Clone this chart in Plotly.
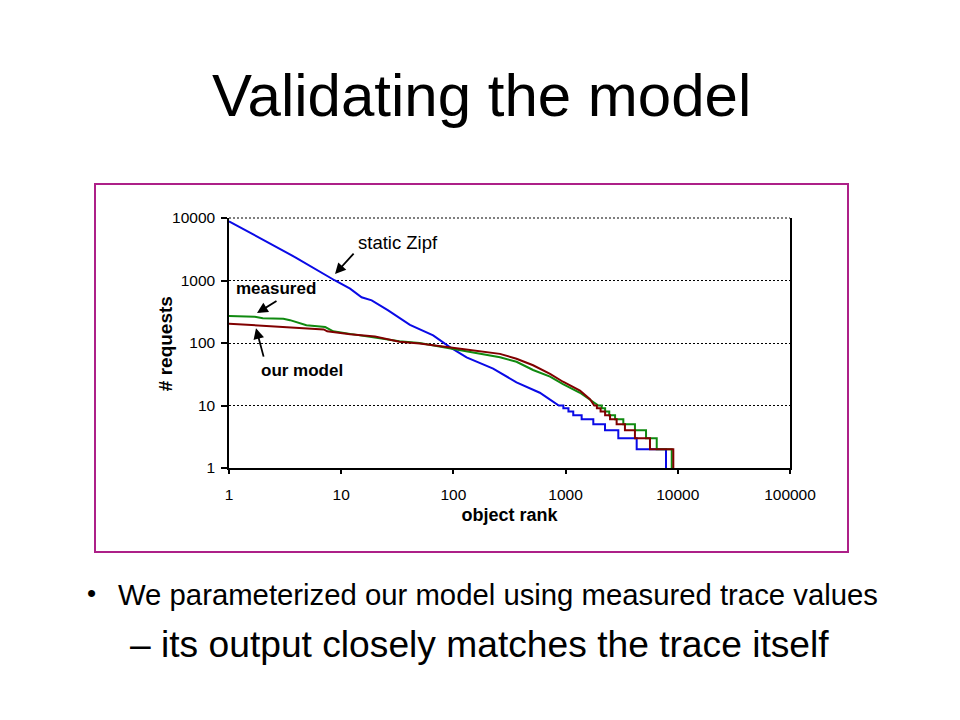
import plotly.graph_objects as go

# ---------------- data ----------------
zipf_rank = [1, 1.7, 3.9, 8.8, 12, 15.2, 18.7, 26, 41, 66, 93, 131, 226, 365, 589, 700, 800,
             870, 955, 955, 1060, 1060, 1170, 1170, 1390, 1390, 1766, 1766, 2245, 2245,
             2950, 2950, 4300, 4300, 7850, 7850]
zipf_req = [8850, 5250, 2350, 1000, 740, 540, 480, 335, 195, 132, 86, 59, 39, 23.5, 16, 13, 11,
            10, 10, 9, 9, 8, 8, 7, 7, 6, 6, 5, 5, 4,
            4, 3, 3, 2, 2, 1]

meas_rank = [1, 1.7, 2, 3.05, 3.5, 4.9, 7.2, 8.5, 12, 20, 33, 50, 93, 130, 260, 365, 513, 727,
             948, 1343, 1650, 1960, 2100, 2100, 2250, 2250, 2450, 2450, 2760, 2760, 3270, 3270,
             4150, 4150, 5210, 5210, 6490, 6490, 8830, 8830]
meas_req = [270, 262, 248, 245, 232, 192, 180, 154, 140, 123, 107, 100, 82, 74, 59, 50, 37, 29,
            22, 16, 12.5, 10, 10, 9, 9, 8, 8, 7, 7, 6, 6, 5,
            5, 4, 4, 3, 3, 2, 2, 1]

model_rank = [1, 3, 5, 7, 7.5, 12, 20, 33, 50, 93, 130, 260, 365, 513, 727, 948, 1343, 1650,
              1800, 1900, 1900, 2050, 2050, 2250, 2250, 2490, 2490, 2850, 2850, 3380, 3380,
              4150, 4150, 5650, 5650, 9120, 9120]
model_req = [204, 182, 172, 165, 154, 138, 127, 105, 98, 84, 79, 67, 56, 44, 32, 24, 17.3, 12.6,
             10, 10, 9, 9, 8, 8, 7, 7, 6, 6, 5, 5, 4,
             4, 3, 3, 2, 2, 1]

tick_vals_x = [1, 10, 100, 1000, 10000, 100000]
tick_text_x = ["1", "10", "100", "1000", "10000", "100000"]
tick_vals_y = [1, 10, 100, 1000, 10000]
tick_text_y = ["1", "10", "100", "1000", "10000"]

# ---------------- layout geometry (page pixels) ----------------
OFF = 8  # default page margin of the HTML body
W, H = 960 - OFF, 720 - OFF
PL, PR, PT, PB = 229, 790, 218, 467.7


def px(x):
    return (x - PL) / (PR - PL)


def py(y):
    return (PB - y) / (PB - PT)


FONT = "Arial, 'Liberation Sans', sans-serif"

fig = go.Figure()
fig.add_trace(go.Scatter(x=zipf_rank, y=zipf_req, mode="lines", name="static Zipf",
                         line=dict(color="#0a0ae6", width=2)))
fig.add_trace(go.Scatter(x=meas_rank, y=meas_req, mode="lines", name="measured",
                         line=dict(color="#108a10", width=2)))
fig.add_trace(go.Scatter(x=model_rank, y=model_req, mode="lines", name="our model",
                         line=dict(color="#800000", width=2)))

fig.update_layout(
    width=W, height=H,
    margin=dict(l=PL - OFF, r=W - (PR - OFF), t=PT - OFF, b=H - (PB - OFF)),
    paper_bgcolor="white", plot_bgcolor="white",
    showlegend=False,
    font=dict(family=FONT, color="black"),
)

fig.update_xaxes(
    type="log", range=[0, 5],
    tickvals=tick_vals_x, ticktext=tick_text_x,
    showgrid=False, zeroline=False,
    showline=True, linecolor="black", linewidth=1.5,
    ticks="outside", ticklen=4, tickcolor="black", tickwidth=1.5,
    ticklabelstandoff=8,
    tickfont=dict(size=15.5, family=FONT),
    title=dict(text="<b>object rank</b>", font=dict(size=18, family=FONT), standoff=6),
)
fig.update_yaxes(
    type="log", range=[0, 4],
    tickvals=tick_vals_y, ticktext=tick_text_y,
    showgrid=True, gridcolor="black", gridwidth=1, griddash="2px,2px",
    zeroline=False,
    showline=True, linecolor="black", linewidth=1.5, mirror=True,
    ticks="outside", ticklen=6, tickcolor="black", tickwidth=1.5,
    ticklabelstandoff=3,
    tickfont=dict(size=15.5, family=FONT),
)

# top dotted gridline (10000) which sits on the plot edge
fig.add_shape(type="line", xref="paper", yref="paper", x0=0, x1=1, y0=1, y1=1,
              line=dict(color="black", width=1, dash="2px,2px"))

# magenta frame around the chart
fig.add_shape(type="rect", xref="paper", yref="paper",
              x0=px(95), x1=px(848), y0=py(551.5), y1=py(184),
              line=dict(color="#ad2088", width=2), fillcolor="rgba(0,0,0,0)", layer="below")

ann = []
# y-axis title
ann.append(dict(text="<b># requests</b>", x=px(165), y=py(344), xref="paper", yref="paper",
                xanchor="center", yanchor="middle", textangle=-90, showarrow=False,
                font=dict(size=19, family=FONT, color="black")))
# title and bullets
ann.append(dict(text="Validating the model", x=px(481.5), y=py(96), xref="paper", yref="paper",
                xanchor="center", yanchor="middle", showarrow=False,
                font=dict(size=60, family=FONT, color="black")))
ann.append(dict(text="•", x=px(91), y=py(593), xref="paper", yref="paper",
                xanchor="center", yanchor="middle", showarrow=False,
                font=dict(size=26, family=FONT, color="black")))
ann.append(dict(text="We parameterized our model using measured trace values", x=px(116),
                y=py(594), xref="paper", yref="paper", xanchor="left", yanchor="middle",
                showarrow=False, font=dict(size=29.3, family=FONT, color="black")))
ann.append(dict(text="– its output closely matches the trace itself", x=px(128),
                y=py(643), xref="paper", yref="paper", xanchor="left", yanchor="middle",
                showarrow=False, font=dict(size=37.2, family=FONT, color="black")))

# series labels
ann.append(dict(text="static Zipf", x=px(398), y=py(242), xref="paper", yref="paper",
                xanchor="center", yanchor="middle", showarrow=False,
                font=dict(size=18.5, family=FONT, color="black")))
ann.append(dict(text="<b>measured</b>", x=px(276), y=py(288), xref="paper", yref="paper",
                xanchor="center", yanchor="middle", showarrow=False,
                font=dict(size=17, family=FONT, color="black")))
ann.append(dict(text="<b>our model</b>", x=px(302), y=py(370), xref="paper", yref="paper",
                xanchor="center", yanchor="middle", showarrow=False,
                font=dict(size=17, family=FONT, color="black")))

# arrows (head at x,y; tail offset ax,ay in pixels)
for hx, hy, tx, ty in [(335, 274, 355, 252), (257, 313, 278, 300), (256, 328, 264, 358)]:
    ann.append(dict(text="", x=px(hx), y=py(hy), xref="paper", yref="paper",
                    ax=tx - hx, ay=ty - hy, showarrow=True, arrowhead=2, arrowsize=1.2,
                    arrowwidth=1.8, arrowcolor="black"))

fig.update_layout(annotations=ann)

fig.write_html("out.html")
